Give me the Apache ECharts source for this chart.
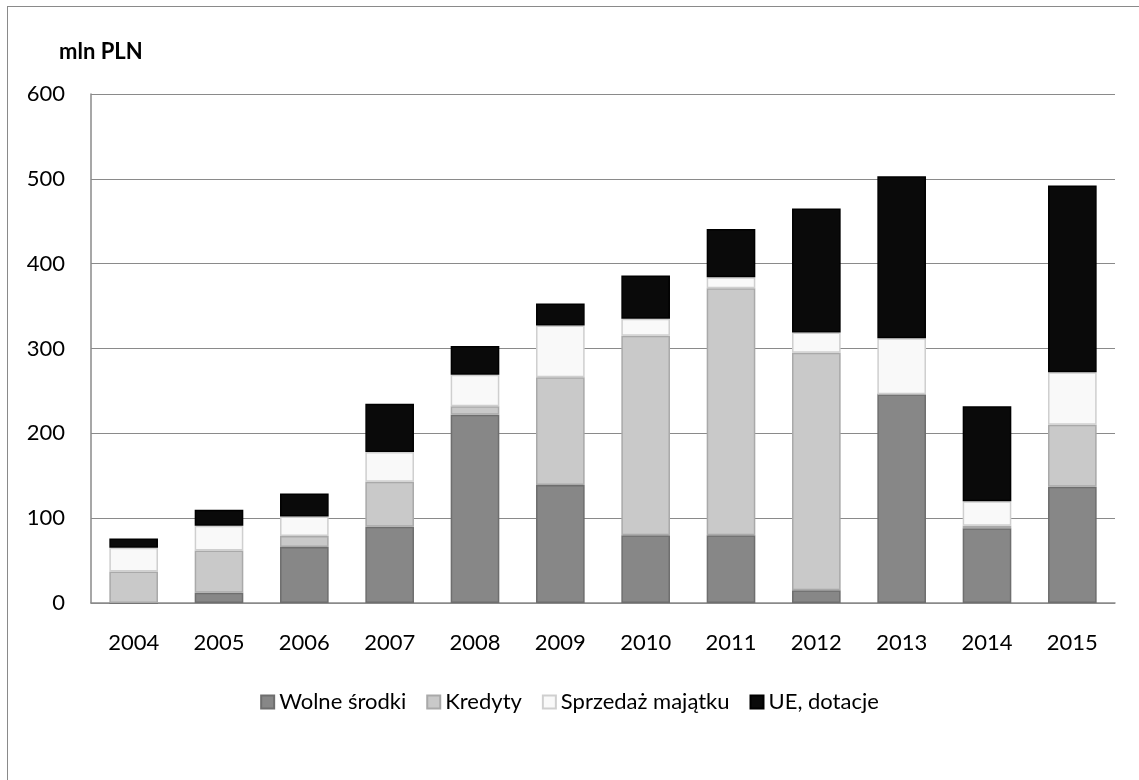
<!DOCTYPE html>
<html>
<head>
<meta charset="utf-8">
<script src="https://cdn.jsdelivr.net/npm/echarts@6/dist/echarts.min.js"></script>
<style>
html,body{margin:0;padding:0;background:#fff;overflow:hidden;}
#wrap{position:relative;width:1139px;height:780px;overflow:hidden;}
#frame{position:absolute;left:7px;top:6px;width:1300px;height:1000px;border:1px solid #8a8a8a;box-sizing:border-box;}
#chart{position:absolute;left:0;top:0;width:1139px;height:780px;}
</style>
</head>
<body>
<div id="wrap"><div id="frame"></div><div id="chart"></div></div>
<script>
const years = ['2004','2005','2006','2007','2008','2009','2010','2011','2012','2013','2014','2015'];
const wolneSrodki = [0, 12, 66, 90, 222, 139, 80, 80, 15, 246, 88, 137];
const kredyty = [37, 50, 13, 53, 10, 127, 235, 291, 280, 0, 3, 73];
const sprzedazMajatku = [28, 29, 23, 35, 37, 61, 20, 13, 24, 66, 29, 62];
const ueDotacje = [11, 19, 27, 57, 34, 26, 51, 57, 146, 191, 112, 220];
const yTicks = [0, 100, 200, 300, 400, 500, 600];

const font = 'Lato, "Open Sans", sans-serif';
function mk(name, data, color, border) {
  return {
    name: name, type: 'bar', stack: 'total', data: data, barWidth: '57%',
    itemStyle: { color: color, borderColor: border, borderWidth: 1.5 },
    emphasis: { disabled: true }
  };
}
const chart = echarts.init(document.getElementById('chart'));
chart.setOption({
  animation: false,
  title: { text: 'mln PLN', left: 59, top: 41, padding: 0, textStyle: { fontFamily: font, fontSize: 22, fontWeight: 'bold', color: '#000' } },
  grid: { left: 91, right: 24, top: 94, bottom: 177 },
  legend: {
    bottom: 62, left: 'center', itemWidth: 13, itemHeight: 13, itemGap: 20,
    icon: 'rect',
    textStyle: { fontFamily: font, fontSize: 22, color: '#000', padding: [0, 0, 0, 0] },
    data: ['Wolne środki', 'Kredyty', 'Sprzedaż majątku', 'UE, dotacje']
  },
  xAxis: {
    type: 'category', data: years,
    axisLine: { lineStyle: { color: '#8a8a8a', width: 1.5 } },
    axisTick: { show: false },
    axisLabel: { fontFamily: font, fontSize: 22, color: '#000', margin: 29 }
  },
  yAxis: {
    type: 'value', min: 0, max: 600, interval: 100,
    axisLine: { show: true, lineStyle: { color: '#8a8a8a', width: 1.5 } },
    axisTick: { show: false },
    splitLine: { lineStyle: { color: '#8a8a8a', width: 1.2 } },
    axisLabel: { fontFamily: font, fontSize: 22, color: '#000', margin: 26,
      formatter: v => yTicks.includes(v) ? String(v) : '' }
  },
  series: [
    mk('Wolne środki', wolneSrodki, '#878787', '#6e6e6e'),
    mk('Kredyty', kredyty, '#c9c9c9', '#a9a9a9'),
    mk('Sprzedaż majątku', sprzedazMajatku, '#f9f9f9', '#cfcfcf'),
    mk('UE, dotacje', ueDotacje, '#0a0a0a', '#000000')
  ]
});
</script>
</body>
</html>
